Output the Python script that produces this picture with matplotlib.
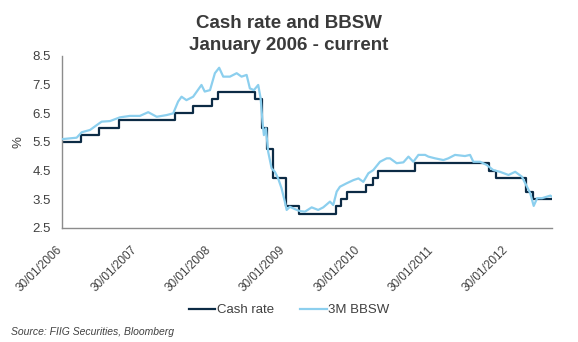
import matplotlib
matplotlib.use("Agg")
import matplotlib.pyplot as plt
import matplotlib.transforms as mtransforms
import pandas as pd

plt.rcParams['font.family'] = ['Liberation Sans', 'DejaVu Sans']

title_lines = ["Cash rate and BBSW", "January 2006 - current"]
y_label = "%"
source = "Source: FIIG Securities, Bloomberg"
series_names = ["Cash rate", "3M BBSW"]

cash_dates = ["2006-01-30", "2006-05-03", "2006-08-02", "2006-11-08", "2007-08-08",
              "2007-11-07", "2008-02-06", "2008-03-05", "2008-09-03", "2008-10-08",
              "2008-11-05", "2008-12-03", "2009-02-04", "2009-04-08", "2009-10-07",
              "2009-11-04", "2009-12-02", "2010-03-03", "2010-04-07", "2010-05-05",
              "2010-11-03", "2011-11-02", "2011-12-07", "2012-05-02", "2012-06-06",
              "2012-09-05"]
cash_values = [5.50, 5.75, 6.00, 6.25, 6.50, 6.75, 7.00, 7.25, 7.00, 6.00,
               5.25, 4.25, 3.25, 3.00, 3.25, 3.50, 3.75, 4.00, 4.25, 4.50,
               4.75, 4.50, 4.25, 3.75, 3.50, 3.50]

bbsw_dates = ["2006-01-30", "2006-04-12", "2006-05-07", "2006-06-17", "2006-07-20",
              "2006-08-13", "2006-09-23", "2006-11-11", "2006-12-30", "2007-02-17",
              "2007-03-30", "2007-05-11", "2007-06-29", "2007-07-31", "2007-08-24",
              "2007-09-10", "2007-10-04", "2007-11-06", "2007-12-17", "2008-01-02",
              "2008-01-28", "2008-02-21", "2008-03-13", "2008-04-02", "2008-05-05",
              "2008-06-07", "2008-07-01", "2008-07-26", "2008-08-11", "2008-08-31",
              "2008-09-21", "2008-10-03", "2008-10-12", "2008-10-19", "2008-10-29",
              "2008-11-09", "2008-11-26", "2008-12-12", "2008-12-28", "2009-01-14",
              "2009-01-30", "2009-02-08", "2009-02-24", "2009-03-20", "2009-04-14",
              "2009-05-09", "2009-06-11", "2009-07-13", "2009-08-07", "2009-09-09",
              "2009-09-25", "2009-10-12", "2009-10-28", "2009-11-30", "2010-01-02",
              "2010-01-27", "2010-02-20", "2010-03-17", "2010-04-10", "2010-05-13",
              "2010-06-15", "2010-07-01", "2010-08-03", "2010-09-05", "2010-09-30",
              "2010-10-24", "2010-11-18", "2010-12-21", "2011-01-06", "2011-02-08",
              "2011-03-21", "2011-04-14", "2011-05-17", "2011-07-05", "2011-07-30",
              "2011-08-15", "2011-09-17", "2011-10-20", "2011-11-21", "2011-12-24",
              "2012-02-04", "2012-03-08", "2012-04-10", "2012-05-05", "2012-05-21",
              "2012-06-07", "2012-06-24", "2012-07-18", "2012-08-28", "2012-09-05"]
bbsw_values = [5.60, 5.65, 5.84, 5.92, 6.09, 6.21, 6.23, 6.36, 6.41, 6.41,
               6.54, 6.38, 6.44, 6.50, 6.91, 7.08, 6.96, 7.08, 7.49, 7.26,
               7.31, 7.90, 8.09, 7.78, 7.78, 7.90, 7.78, 7.84, 7.37, 7.31,
               7.49, 7.02, 6.21, 5.74, 5.98, 5.16, 4.58, 4.46, 4.23, 3.88,
               3.42, 3.13, 3.24, 3.16, 3.09, 3.07, 3.22, 3.13, 3.22, 3.42,
               3.30, 3.77, 3.94, 4.06, 4.17, 4.23, 4.11, 4.41, 4.52, 4.81,
               4.93, 4.93, 4.76, 4.79, 4.99, 4.81, 5.05, 5.05, 4.99, 4.93,
               4.87, 4.93, 5.05, 5.01, 5.05, 4.81, 4.81, 4.70, 4.52, 4.46,
               4.35, 4.46, 4.29, 3.94, 3.71, 3.27, 3.54, 3.54, 3.63, 3.59]

tick_dates = ["2006-01-30", "2007-01-30", "2008-01-30", "2009-01-30",
              "2010-01-30", "2011-01-30", "2012-01-30"]
y_ticks = [2.5, 3.5, 4.5, 5.5, 6.5, 7.5, 8.5]

cash_x = pd.to_datetime(cash_dates)
bbsw_x = pd.to_datetime(bbsw_dates)
ticks_x = pd.to_datetime(tick_dates)

fig = plt.figure(figsize=(5.78, 3.42), dpi=100)
ax = fig.add_axes([62/578, 1-228/342, (552-62)/578, (228-56)/342])

text_col = "#404040"
ax.step(cash_x, cash_values, where="post", color="#0c2b45", lw=1.6, label=series_names[0], zorder=2)
ax.plot(bbsw_x, bbsw_values, color="#8ccfee", lw=1.6, label=series_names[1], zorder=3)

ax.set_xlim(pd.Timestamp("2006-01-30"), pd.Timestamp("2012-09-05"))
ax.set_ylim(2.5, 8.5)
ax.set_yticks(y_ticks)
ax.set_yticklabels([f"{v:.1f}" for v in y_ticks], fontsize=9.5, color=text_col)
ax.set_xticks(ticks_x)
ax.set_xticklabels([d.strftime("%d/%m/%Y") for d in ticks_x], rotation=45,
                   ha="right", va="top", fontsize=8.5, color=text_col)
ax.tick_params(length=0)
ax.tick_params(axis="y", pad=8)
ax.tick_params(axis="x", pad=10)
shift = mtransforms.ScaledTranslation(3/100, -2/100, fig.dpi_scale_trans)
for lbl in ax.get_xticklabels():
    lbl.set_transform(lbl.get_transform() + shift)
for s in ["top", "right"]:
    ax.spines[s].set_visible(False)
for s in ["left", "bottom"]:
    ax.spines[s].set_color("#8c8c8c")
    ax.spines[s].set_linewidth(1.0)

fig.text(18/578, 1-142/342, y_label, rotation=90, ha="center", va="center",
         fontsize=9.5, color=text_col)
fig.text(289/578, 1-28/342, title_lines[0], ha="center", va="baseline", fontsize=13.5,
         fontweight="bold", color="#3a3a3a")
fig.text(289/578, 1-50/342, title_lines[1], ha="center", va="baseline", fontsize=13.5,
         fontweight="bold", color="#3a3a3a")

fig.legend(loc="center", bbox_to_anchor=(289/578, 1-310/342), ncol=2, frameon=False,
           fontsize=9.5, handlelength=2.0, handletextpad=0.12, columnspacing=2.0,
           labelcolor=text_col)
fig.text(11/578, 1-332/342, source, ha="left", va="center", fontsize=7.5,
         style="italic", color=text_col)

fig.savefig("out.png", dpi=100)
